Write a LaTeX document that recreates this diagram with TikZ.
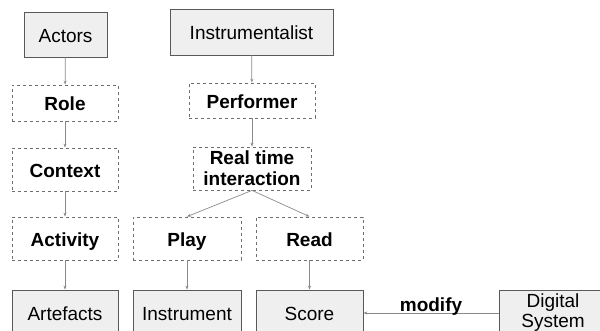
\documentclass[tikz,border=0pt]{standalone}
\usepackage{fontspec}
\setmainfont{Liberation Sans}
\usetikzlibrary{arrows.meta}
\definecolor{boxfill}{HTML}{EFEFEF}
\definecolor{boxline}{HTML}{595959}
\definecolor{dashline}{HTML}{6E6E6E}
\definecolor{arrowline}{HTML}{8A8A8A}
\begin{document}
\begin{tikzpicture}[
    x=1pt, y=-1pt,
    thing/.style={rectangle, draw=boxline, fill=boxfill, line width=0.8pt, minimum width=106pt, minimum height=45pt, inner sep=0pt, text height=17pt, text depth=1pt, align=center, font=\fontsize{19}{20}\selectfont},
    notion/.style={rectangle, draw=dashline, dashed, line width=0.8pt, fill=white, minimum width=106pt, minimum height=43pt, inner sep=0pt, text height=17pt, text depth=1pt, align=center, font=\fontsize{19}{21}\selectfont\bfseries},
    twolines/.style={text height=, text depth=},
    link/.style={-{Stealth[length=4pt,width=3pt]}, draw=arrowline, line width=0.7pt},
    linklabel/.style={font=\fontsize{19}{21}\selectfont\bfseries, anchor=base, yshift=2pt, inner sep=0pt}
]
    \useasboundingbox (0,0) rectangle (600,331);
    \clip (0,0) rectangle (600,331);

    % Left column
    \node[thing, minimum width=83pt] (actors) at (65.5,34.5) {Actors};
    \node[notion, minimum height=36pt] (role) at (65,103) {Role};
    \node[notion] (context) at (65,169.5) {Context};
    \node[notion] (activity) at (65,238.5) {Activity};
    \node[thing] (artefacts) at (65,312.5) {Artefacts};

    % Instrumentalist column
    \node[thing, minimum width=163pt, minimum height=46pt] (instrumentalist) at (251.5,32) {Instrumentalist};
    \node[notion, minimum width=126pt, minimum height=35pt] (performer) at (252,100.5) {Performer};
    \node[notion, twolines, minimum width=118pt] (realtime) at (252,168.5) {Real time\\interaction};
    \node[notion, minimum width=108pt] (play) at (187,238.5) {Play};
    \node[notion, minimum width=107pt] (read) at (309.5,238.5) {Read};
    \node[thing, minimum width=108pt] (instrument) at (187,312.5) {Instrument};
    \node[thing, minimum width=107pt] (score) at (309.5,312.5) {Score};

    % Digital system
    \node[thing, twolines, minimum width=108pt] (digital) at (553,312.5) {Digital\\System};

    % Links
    \draw[link] (actors) -- (role);
    \draw[link] (role) -- (context);
    \draw[link] (context) -- (activity);
    \draw[link] (activity) -- (artefacts);

    \draw[link] (instrumentalist) -- (performer);
    \draw[link] (performer) -- (realtime);
    \draw[link] (realtime.south) -- (play.north);
    \draw[link] (realtime.south) -- (read.north);
    \draw[link] (play) -- (instrument);
    \draw[link] (read) -- (score);

    \draw[link] (digital.west |- 0,313) -- (score.east |- 0,313) node[linklabel, midway] {modify};

\end{tikzpicture}
\end{document}
